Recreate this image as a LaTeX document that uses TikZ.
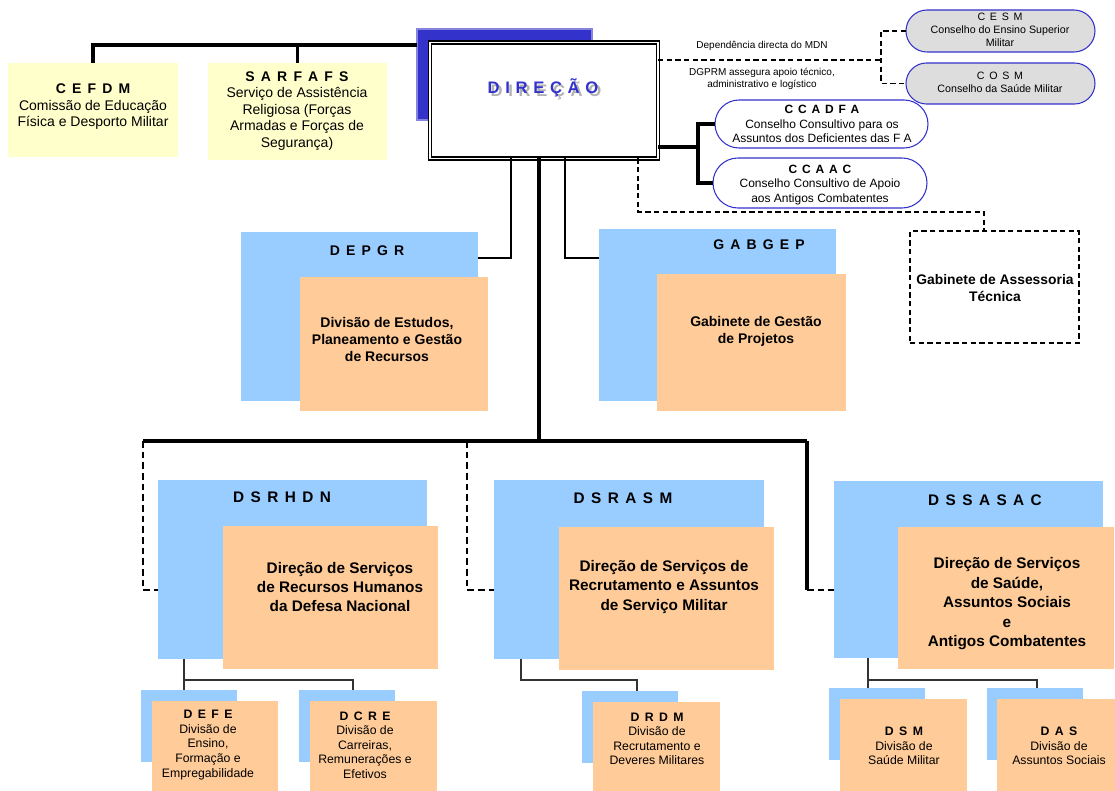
\documentclass[tikz,border=0pt]{standalone}
\usepackage{fontspec}
\setmainfont{Liberation Sans}
\usetikzlibrary{shapes.misc}
\definecolor{lblue}{RGB}{153,204,255}
\definecolor{lorange}{RGB}{255,204,153}
\definecolor{lyellow}{RGB}{255,255,204}
\definecolor{dblue}{RGB}{51,51,204}
\definecolor{lgrey}{RGB}{221,221,221}
\newcommand\setsp[1]{\spaceskip=#1em\relax}
\newcommand\spaced[2][0.44]{{\setsp{#1}#2}}
\newcommand\placebox[6]{\node[#2, minimum width={(#5-#3)*0.75pt}, minimum height={(#6-#4)*0.75pt}, inner sep=0pt, outer sep=0pt] (#1) at ({(#3+#5)/2},{(#4+#6)/2}) {};}
\begin{document}
\begin{tikzpicture}[x=0.75pt,y=-0.75pt,
  blueb/.style={fill=lblue},
  orb/.style={fill=lorange},
  yelb/.style={fill=lyellow},
  stad/.style={rounded rectangle, draw=dblue, line width=0.8pt},
  thickc/.style={line width=2.5pt},
  medc/.style={line width=1.4pt},
  subc/.style={line width=0.9pt, draw=black!80},
  dsh/.style={line width=1.8pt, dash pattern=on 5pt off 3pt},
  dshthin/.style={line width=1.1pt, dash pattern=on 4pt off 2.5pt},
  big/.style={font=\fontsize{11.5}{14.6}\selectfont\bfseries, align=center, inner sep=0pt},
  mid/.style={font=\fontsize{10.5}{12.75}\selectfont\bfseries, align=center, inner sep=0pt},
  ttl/.style={font=\fontsize{11.5}{14}\selectfont\bfseries, inner sep=0pt},
  ttlm/.style={font=\fontsize{10.5}{13}\selectfont\bfseries, inner sep=0pt},
  sm/.style={font=\fontsize{9.2}{10.9}\selectfont, align=center, inner sep=0pt},
  yl/.style={font=\fontsize{10.5}{12.4}\selectfont, align=center, inner sep=0pt},
  cc/.style={font=\fontsize{9}{10.9}\selectfont, align=center, inner sep=0pt},
  cs/.style={font=\fontsize{8}{9.75}\selectfont, align=center, inner sep=0pt},
  lab/.style={font=\fontsize{7.5}{8.7}\selectfont, align=center, inner sep=0pt},
  dirf/.style={font=\fontsize{12.5}{14}\selectfont\bfseries, inner sep=0pt}
]
\useasboundingbox (0,0) rectangle (1115,791);

% ---------- DIRECAO ----------
\placebox{dirS}{fill=dblue, draw=dblue!60!white, line width=0.8pt}{417}{29}{592}{120}
\placebox{dir}{draw=black, double=white, double distance=1.3pt, line width=1pt, fill=white}{430}{42.5}{658}{158.5}
\node[dirf, text=black!30] (dirTs) at (546,91) {\spaced[0.34]{D I R E Ç Ã O}};
\node[dirf, text=dblue] (dirT) at (543,88) {\spaced[0.34]{D I R E Ç Ã O}};

% ---------- top left ----------
\placebox{cefdm}{yelb}{8}{63}{178}{157}
\placebox{sarf}{yelb}{208}{63}{387}{160}
\node[yl] (cefdmT) at (93,107) {{\bfseries\spaced{C E F D M}}\\Comissão de Educação\\Física e Desporto Militar};
\node[yl] (sarfT) at (297,111) {{\bfseries\spaced{S A R F A F S}}\\Serviço de Assistência\\Religiosa (Forças\\Armadas e Forças de\\Segurança)};
\coordinate (topbar) at (417,45);
\draw[thickc] (cefdm.north) |- (topbar);
\draw[thickc] (sarf.north) -- (sarf.north |- topbar);

% ---------- CESM / COSM ----------
\placebox{cesm}{stad, fill=lgrey}{906}{10}{1095}{52}
\placebox{cosm}{stad, fill=lgrey}{906}{63}{1095}{104}
\node[cs] (cesmT) at (1000,30) {\spaced{C E S M}\\Conselho do Ensino Superior\\Militar};
\node[cs] (cosmT) at (1000,82) {\spaced{C O S M}\\Conselho da Saúde Militar};
\coordinate (mdnj) at (881,60);
\draw[dshthin, line width=1.3pt] (dir.east |- mdnj) -- (mdnj);
\draw[dshthin, line width=1.3pt] (cesm.west) -| (mdnj) |- (cosm.west);
\node[lab] (mdnT) at (762,46) {Dependência directa do MDN};
\node[lab] (dgT) at (762,79) {DGPRM assegura apoio técnico,\\administrativo e logístico};

% ---------- CCADFA / CCAAC ----------
\placebox{ccadfa}{stad, fill=white}{715}{100}{928}{148}
\placebox{ccaac}{stad, fill=white}{713}{158}{927}{208}
\node[cc] (ccadfaT) at (822,124) {{\bfseries\spaced[0.4]{C C A D F A}}\\Conselho Consultivo para os\\Assuntos dos Deficientes das F A};
\node[cc] (ccaacT) at (820,185) {{\bfseries\spaced[0.4]{C C A A C}}\\Conselho Consultivo de Apoio\\aos Antigos Combatentes};
\coordinate (ccj) at (698,147);
\draw[thickc] (dir.east |- ccj) -- (ccj);
\draw[thickc] (ccadfa.west) -| (ccj) |- (ccaac.west);

% ---------- Gabinete de Assessoria ----------
\placebox{gab}{draw, dshthin, fill=white}{910}{231}{1079}{343}
\node[mid, font=\fontsize{10.4}{12.75}\selectfont\bfseries] (gabT) at (995,288) {Gabinete de Assessoria\\Técnica};
\coordinate (gj1) at (638,212);
\coordinate (gj2) at (984,212);
\draw[dshthin] (gj1 |- dir.south) -- (gj1) -- (gj2) -- (gj2 |- gab.north);

% ---------- DEPGR / GABGEP ----------
\placebox{depB}{blueb}{241}{232}{478}{401}
\placebox{depO}{orb}{300}{277}{488}{411}
\node[ttlm] (depT) at (367,251) {\spaced{D E P G R}};
\node[mid] (depOT) at (387,339) {Divisão de Estudos,\\Planeamento e Gestão\\de Recursos};
\placebox{gbgB}{blueb}{599}{229}{836}{401}
\placebox{gbgO}{orb}{657}{274}{846}{411}
\node[ttlm] (gbgT) at (759,245) {\spaced{G A B G E P}};
\node[mid] (gbgOT) at (756,331) {Gabinete de Gestão\\de Projetos};
\coordinate (dpj) at (511,258);
\coordinate (gpj) at (565,258);
\draw[medc] (dpj |- dir.south) -- (dpj) -- (dpj -| depB.east);
\draw[medc] (gpj |- dir.south) -- (gpj) -- (gpj -| gbgB.west);

% ---------- trunk ----------
\coordinate (trj) at (539,441);
\coordinate (hl) at (143,441);
\coordinate (hm) at (467,441);
\coordinate (hr) at (807,441);
\draw[thickc, line width=2.9pt] (trj |- dir.south) -- (trj);
\draw[thickc, line width=2.3pt] (hl) -- (hr);

% ---------- DSRHDN ----------
\placebox{dsrB}{blueb}{158}{480}{427}{659}
\placebox{dsrO}{orb}{223}{526}{438}{669}
\node[ttl] (dsrT) at (282,497) {\spaced[0.42]{D S R H D N}};
\node[big] (dsrOT) at (340,587) {Direção de Serviços\\de Recursos Humanos\\da Defesa Nacional};
% ---------- DSRASM ----------
\placebox{dsaB}{blueb}{494}{480}{764}{659}
\placebox{dsaO}{orb}{559}{527}{774}{670}
\node[ttl] (dsaT) at (623,498) {\spaced[0.42]{D S R A S M}};
\node[big] (dsaOT) at (664,587) {Direção de Serviços de\\Recrutamento e Assuntos\\de Serviço Militar};
% ---------- DSSASAC ----------
\placebox{dssB}{blueb}{834}{481}{1103}{658}
\placebox{dssO}{orb}{898}{527}{1114}{669}
\node[ttl] (dssT) at (985,500) {\spaced[0.42]{D S S A S A C}};
\node[big] (dssOT) at (1007,604) {Direção de Serviços\\de Saúde,\\Assuntos Sociais\\e\\Antigos Combatentes};

\coordinate (ld) at (143,590);
\coordinate (md) at (467,590);
\coordinate (rd) at (807,590);
\draw[dsh] (hl) -- (ld) -- (ld -| dsrB.west);
\draw[dsh] (hm) -- (md) -- (md -| dsaB.west);
\draw[thickc, line width=2.3pt] (hr) -- (rd);
\draw[dsh] (rd) -- (rd -| dssB.west);

% ---------- level 3 ----------
\placebox{defeB}{blueb}{141}{690}{237}{762}
\placebox{defeO}{orb}{152}{701}{278}{791}
\node[sm] (defeT) at (208,745) {{\bfseries\spaced{D E F E}}\\Divisão de\\Ensino,\\Formação e\\Empregabilidade};
\placebox{dcreB}{blueb}{299}{690}{395}{762}
\placebox{dcreO}{orb}{310}{701}{437}{791}
\node[sm] (dcreT) at (365,745) {{\bfseries\spaced{D C R E}}\\Divisão de\\Carreiras,\\Remunerações e\\Efetivos};
\placebox{drdmB}{blueb}{582}{691}{678}{763}
\placebox{drdmO}{orb}{593}{702}{720}{791}
\node[sm] (drdmT) at (657,739) {{\bfseries\spaced{D R D M}}\\Divisão de\\Recrutamento e\\Deveres Militares};
\placebox{dsmB}{blueb}{829}{688}{925}{760}
\placebox{dsmO}{orb}{840}{699}{967}{791}
\node[sm] (dsmT) at (904,746) {{\bfseries\spaced{D S M}}\\Divisão de\\Saúde Militar};
\placebox{dasB}{blueb}{987}{688}{1083}{760}
\placebox{dasO}{orb}{997}{699}{1115}{791}
\node[sm] (dasT) at (1059,746) {{\bfseries\spaced{D A S}}\\Divisão de\\Assuntos Sociais};

\coordinate (s1) at (184,680);
\coordinate (s1e) at (353,680);
\draw[subc] (s1 |- dsrB.south) -- (s1 |- defeB.north);
\draw[subc] (s1) -- (s1e) -- (s1e |- dcreB.north);
\coordinate (s2) at (521,680);
\coordinate (s2e) at (637,680);
\draw[subc] (s2 |- dsaB.south) -- (s2) -- (s2e) -- (s2e |- drdmB.north);
\coordinate (s3) at (868,680);
\coordinate (s3e) at (1037,680);
\draw[subc] (s3 |- dssB.south) -- (s3 |- dsmB.north);
\draw[subc] (s3) -- (s3e) -- (s3e |- dasB.north);
\end{tikzpicture}
\end{document}
